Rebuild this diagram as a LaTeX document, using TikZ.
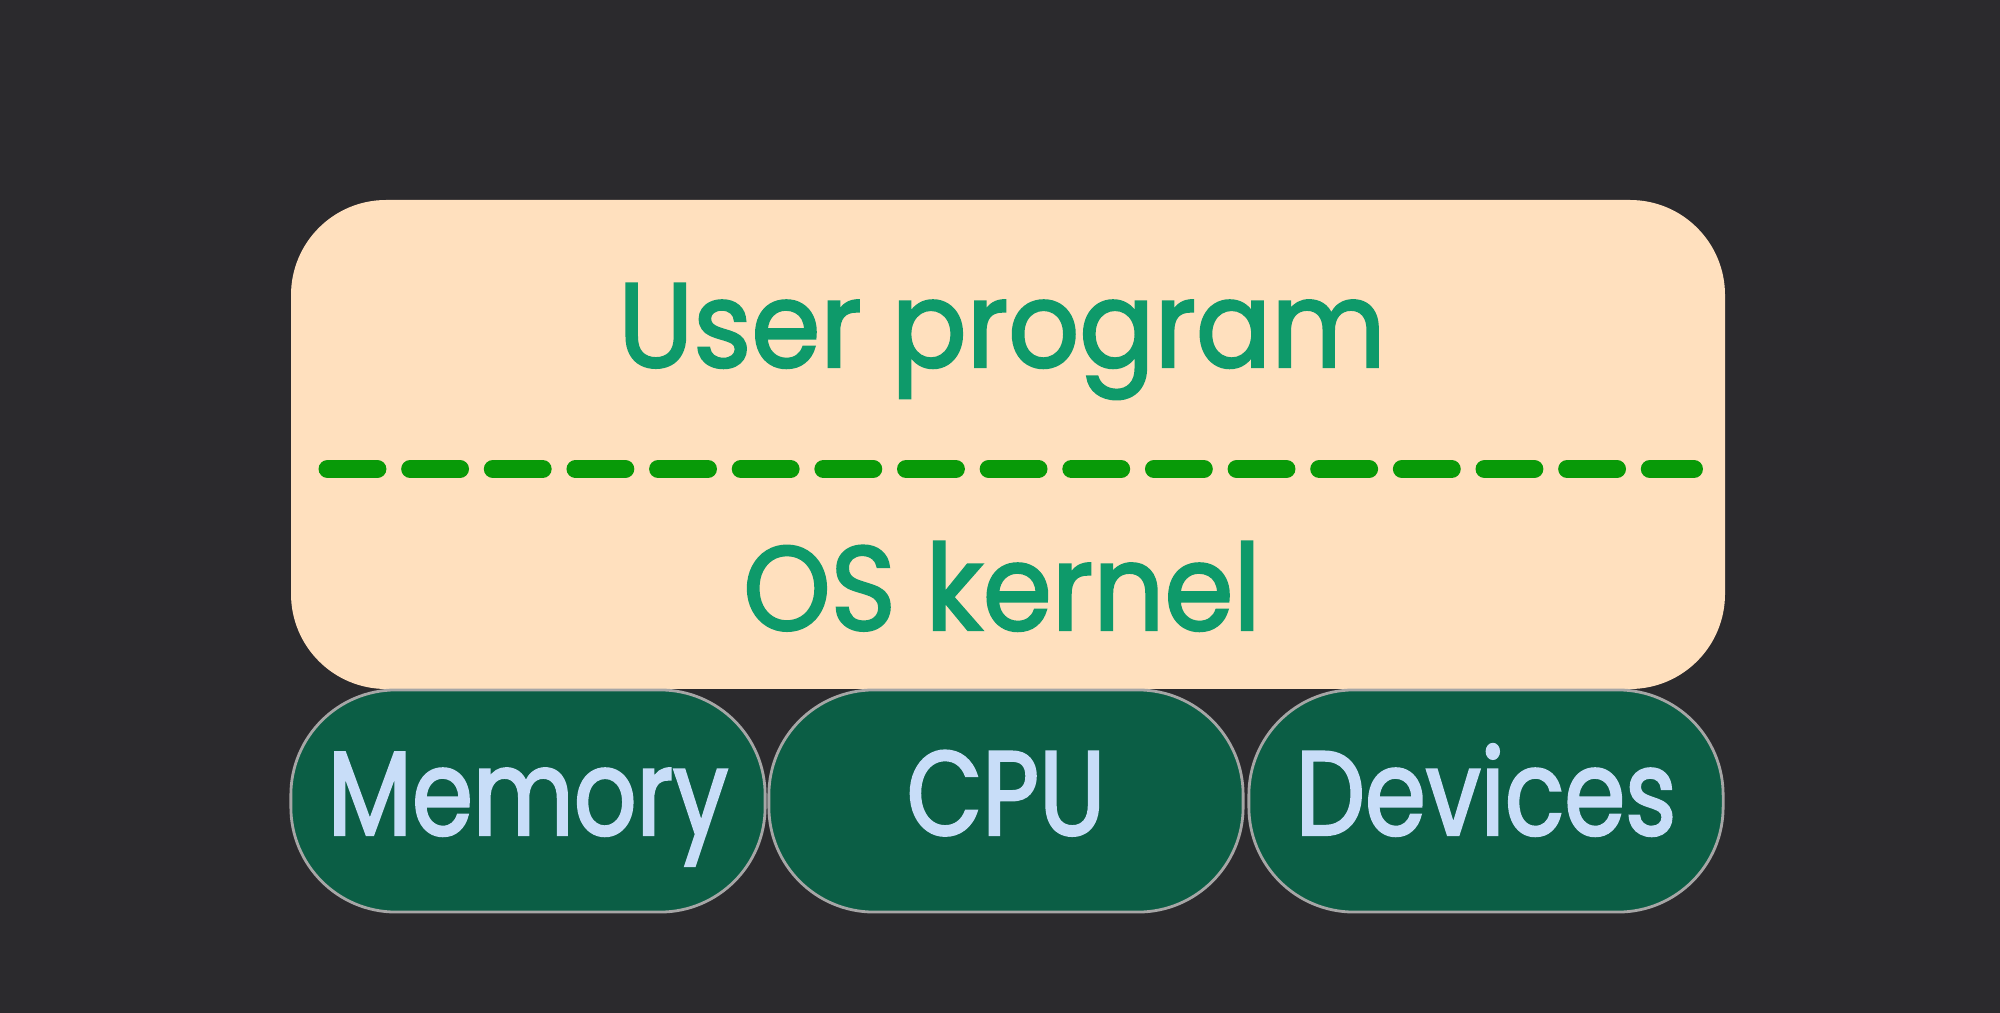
\documentclass[tikz,border=0pt]{standalone}
\usepackage{fontspec}
\setmainfont{Poppins}
\newfontfamily\handfont{Poppins}[FakeStretch=0.82,FakeBold=2]
\newfontfamily\widehand{Poppins}[FakeStretch=0.93,FakeBold=2]
\definecolor{bgdark}{HTML}{2B2A2D}
\definecolor{peach}{HTML}{FFE0BE}
\definecolor{textgreen}{HTML}{0E9A6A}
\definecolor{dashgreen}{HTML}{089A08}
\definecolor{hwgreen}{HTML}{0B5E45}
\definecolor{hwtext}{HTML}{C8DDF8}

\begin{document}
\begin{tikzpicture}[x=0.01cm,y=-0.01cm]
			\tikzstyle{layer} = [fill=peach,rounded corners=0.95cm];
			\tikzstyle{hwbox} = [rectangle,rounded corners=1.05cm,fill=hwgreen,draw=gray!70,line width=0.8pt,minimum width=4.74cm,minimum height=2.22cm,inner sep=0pt];
			\tikzstyle{swlabel} = [text=textgreen,font=\widehand\fontsize{34}{40}\selectfont,inner sep=0pt];
			\tikzstyle{hwlabel} = [text=hwtext,font=\handfont\fontsize{34}{40}\selectfont,inner sep=0pt];
			\fill[bgdark] (0,0) rectangle (2000,1013);
			\useasboundingbox (0,0) rectangle (2000,1013);
			\fill[layer] (291,200) rectangle (1725,689);
			\node[swlabel,anchor=base] (user) at (1002,367) {User program};
			\node[swlabel,anchor=base] (kernel) at (1002,630) {OS kernel};
			\coordinate (lineL) at (327.5,469);
			\coordinate (lineR) at (1694,469);
			\draw[dashgreen,line width=5.1pt,line cap=round,dash pattern=on 14.2pt off 9.3pt] (lineL) -- (lineR);
			\node[hwbox] (mem) at (528,801) {};
			\node[hwbox] (cpu) at (1006,801) {};
			\node[hwbox] (dev) at (1486,801) {};
			\node[hwlabel,anchor=base] at (mem.center |- 0,835) {Memory};
			\node[hwlabel,anchor=base] at (cpu.center |- 0,835) {CPU};
			\node[hwlabel,anchor=base] at (dev.center |- 0,835) {Devices};
		\end{tikzpicture}
\end{document}
